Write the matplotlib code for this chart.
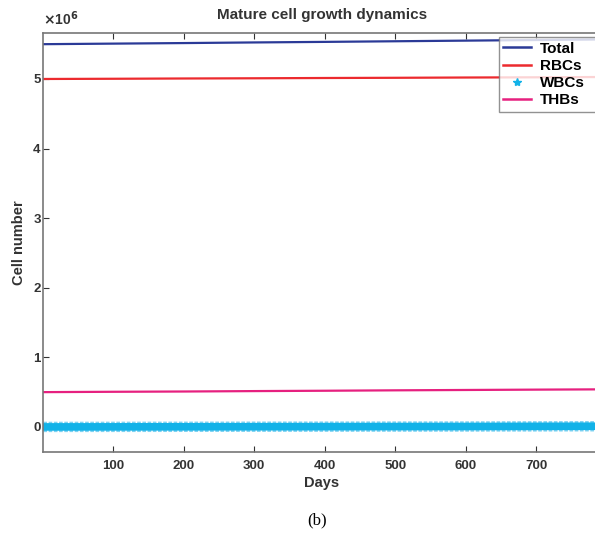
import matplotlib
matplotlib.use('Agg')
import matplotlib.pyplot as plt
from matplotlib.lines import Line2D

plt.rcParams['font.family'] = 'Liberation Sans'
plt.rcParams['font.weight'] = 'bold'

days = [1, 100, 200, 300, 400, 500, 600, 700, 790]
total = [5.50, 5.508, 5.516, 5.525, 5.533, 5.542, 5.551, 5.560, 5.568]
rbcs = [5.00, 5.003, 5.007, 5.010, 5.014, 5.017, 5.021, 5.024, 5.028]
wbcs = [0.00, 0.001, 0.002, 0.003, 0.004, 0.005, 0.006, 0.008, 0.010]
thbs = [0.50, 0.505, 0.509, 0.515, 0.520, 0.526, 0.531, 0.536, 0.540]
xticks = [100, 200, 300, 400, 500, 600, 700]
yticks = [0, 1, 2, 3, 4, 5]

fig = plt.figure(figsize=(5.95, 5.33), dpi=100)
ax = fig.add_axes([0.073, 0.152, 0.935, 0.786])

c_total = '#2b3a97'
c_rbc = '#ec2a2e'
c_wbc = '#12b2e8'
c_thb = '#e6207f'

ax.plot(days, total, color=c_total, lw=1.6)
ax.plot(days, rbcs, color=c_rbc, lw=1.6)
ax.plot(days, wbcs, color='#7fd3f2', lw=7.5, ls=(0, (0.35, 0.15)), solid_capstyle='butt')
ax.plot(days, wbcs, color=c_wbc, lw=5.5)
ax.plot(days, thbs, color=c_thb, lw=1.6)

ax.set_xlim(1, 790)
ax.set_ylim(-0.36, 5.66)
ax.set_xticks(xticks)
ax.set_yticks(yticks)
ax.tick_params(direction='in', length=4, labelsize=9.5, colors='#333333',
               top=True, right=False)
ax.tick_params(axis='x', pad=6)
ax.tick_params(axis='y', pad=2)
for s in ax.spines.values():
    s.set_color('#777777')
    s.set_linewidth(1.2)

ax.set_xlabel('Days', fontsize=10.5, fontweight='bold', labelpad=3, color='#333333')
ax.set_ylabel('Cell number', fontsize=10.5, fontweight='bold', labelpad=5, color='#333333')
ax.set_title('Mature cell growth dynamics', fontsize=11, fontweight='bold',
             color='#333333', pad=10)
ax.text(0.0, 1.012, r'$\times$10$^{6}$', transform=ax.transAxes, fontsize=10,
        color='#333333', ha='left', va='bottom')

handles = [Line2D([], [], color=c_total, lw=1.8),
           Line2D([], [], color=c_rbc, lw=1.8),
           Line2D([], [], color=c_wbc, lw=0, marker='*', markersize=6),
           Line2D([], [], color=c_thb, lw=1.8)]
leg = ax.legend(handles, ['Total', 'RBCs', 'WBCs', 'THBs'], loc='upper left',
                mode='expand', fontsize=11, frameon=True, fancybox=False,
                borderaxespad=0.0, handlelength=1.8, handletextpad=0.6,
                labelspacing=0.2, borderpad=0.3,
                bbox_to_anchor=(0.818, 0.99, 0.2, 0))
leg.get_frame().set_edgecolor('#777777')
leg.get_frame().set_linewidth(1.0)

fig.text(0.533, 0.024, '(b)', fontsize=12, family='Liberation Serif',
         fontweight='normal', ha='center', va='center')

fig.savefig('out.png', dpi=100)
